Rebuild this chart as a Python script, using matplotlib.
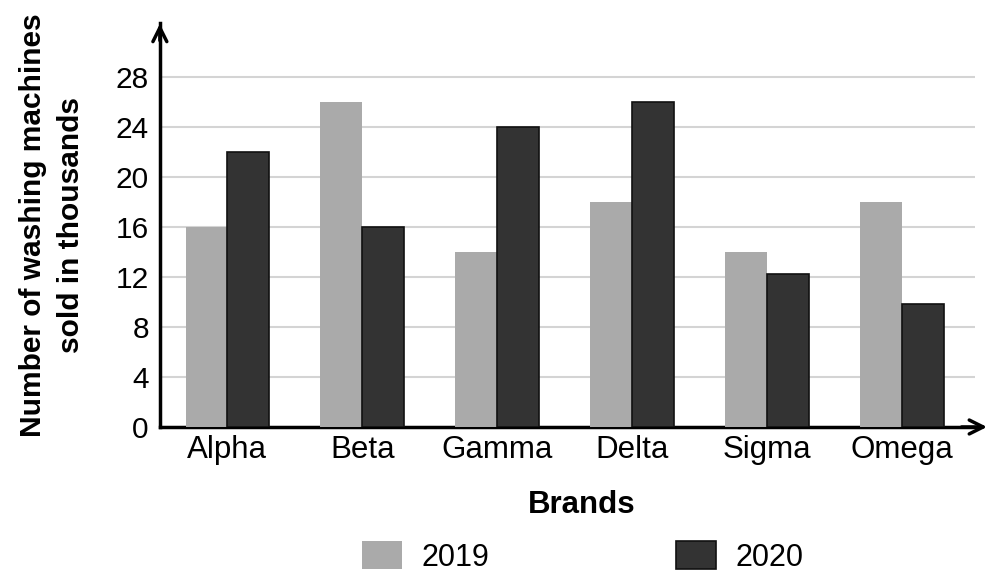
import matplotlib.pyplot as plt
import numpy as np

brands = ['Alpha', 'Beta', 'Gamma', 'Delta', 'Sigma', 'Omega']
sales_2019 = [16, 26, 14, 18, 14, 18]
sales_2020 = [22, 16, 24, 26, 12.2, 9.8]
y_ticks = [0, 4, 8, 12, 16, 20, 24, 28]

plt.rcParams['font.family'] = ['Liberation Sans', 'DejaVu Sans']

fig = plt.figure(figsize=(9.93, 5.77), dpi=100)
ax = fig.add_axes([0.161, 0.26, 0.821, 0.70])

x = np.arange(len(brands))
w = 0.31
ax.bar(x - w / 2, sales_2019, w, color='#aaaaaa', label='2019', zorder=3)
ax.bar(x + w / 2, sales_2020, w, color='#333333', edgecolor='#111111',
       linewidth=1.2, label='2020', zorder=3)

ax.set_xlim(-0.5, 5.54)
ax.set_ylim(0, 32.3)
ax.set_yticks(y_ticks)
ax.set_xticks(x)
ax.set_xticklabels(brands)
ax.tick_params(axis='y', length=0, labelsize=21.5, pad=8)
ax.tick_params(axis='x', length=0, labelsize=22.5, pad=6)
ax.yaxis.grid(True, color='#d4d4d4', linewidth=1.5, zorder=0)
ax.set_axisbelow(True)

for s in ['top', 'right']:
    ax.spines[s].set_visible(False)
ax.spines['left'].set_linewidth(2.5)
ax.spines['bottom'].set_linewidth(2.5)

# flechas de los ejes
ax.annotate('', xy=(0, 1.005), xytext=(0, 0.95), xycoords='axes fraction',
            arrowprops=dict(arrowstyle='->', lw=2.5, color='black',
                            mutation_scale=25), annotation_clip=False)
ax.annotate('', xy=(1.018, 0), xytext=(0.98, 0), xycoords='axes fraction',
            arrowprops=dict(arrowstyle='->', lw=2.5, color='black',
                            mutation_scale=25), annotation_clip=False)

fig.text(52 / 993, 0.61, 'Number of washing machines\nsold in thousands',
         rotation=90, ha='center', va='center', multialignment='center',
         fontsize=21.5, fontweight='bold', linespacing=1.45)
fig.text(0.586, 0.125, 'Brands', ha='center', va='center',
         fontsize=22.5, fontweight='bold')

fig.legend(loc='center', bbox_to_anchor=(0.587, 1 - 557 / 577), ncol=2,
           frameon=False, fontsize=22, columnspacing=6.1, handlelength=1.3,
           handleheight=1.0, handletextpad=0.65)

fig.savefig('out.png', dpi=100)
